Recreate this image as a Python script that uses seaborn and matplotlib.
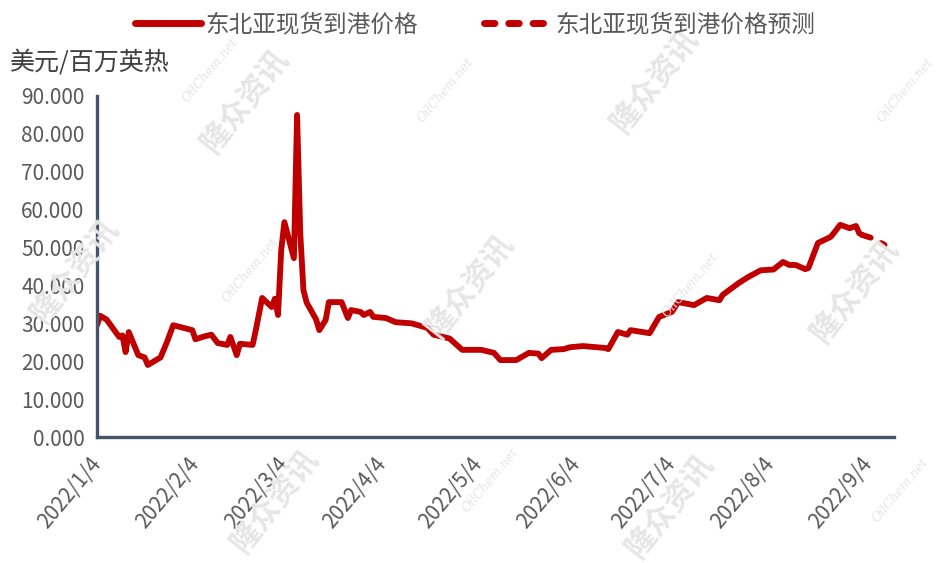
import pandas as pd
import matplotlib.pyplot as plt
import seaborn as sns

# Northeast Asia spot LNG delivered price, USD/MMBtu
dates = [
    "2022-01-04", "2022-01-05", "2022-01-07", "2022-01-11", "2022-01-12", "2022-01-13",
    "2022-01-14", "2022-01-17", "2022-01-19", "2022-01-20", "2022-01-24", "2022-01-26",
    "2022-01-28", "2022-02-03", "2022-02-04", "2022-02-07", "2022-02-09", "2022-02-11",
    "2022-02-14", "2022-02-15", "2022-02-17", "2022-02-18", "2022-02-22", "2022-02-23",
    "2022-02-25", "2022-02-28", "2022-03-01", "2022-03-02", "2022-03-03", "2022-03-04",
    "2022-03-07", "2022-03-08", "2022-03-09", "2022-03-10", "2022-03-11", "2022-03-14",
    "2022-03-15", "2022-03-17", "2022-03-18", "2022-03-22", "2022-03-24", "2022-03-25",
    "2022-03-28", "2022-03-29", "2022-03-31", "2022-04-01", "2022-04-05", "2022-04-08",
    "2022-04-13", "2022-04-18", "2022-04-20", "2022-04-25", "2022-04-29", "2022-05-05",
    "2022-05-09", "2022-05-11", "2022-05-16", "2022-05-20", "2022-05-23", "2022-05-24",
    "2022-05-27", "2022-05-31", "2022-06-02", "2022-06-06", "2022-06-13", "2022-06-14",
    "2022-06-17", "2022-06-20", "2022-06-21", "2022-06-27", "2022-06-30", "2022-07-04",
    "2022-07-06", "2022-07-11", "2022-07-15", "2022-07-19", "2022-07-20", "2022-07-25",
    "2022-07-28", "2022-08-01", "2022-08-05", "2022-08-08", "2022-08-10", "2022-08-12",
    "2022-08-15", "2022-08-16", "2022-08-19", "2022-08-23", "2022-08-24", "2022-08-26",
    "2022-08-29", "2022-08-31", "2022-09-01", "2022-09-02",
]
prices = [
    29.5, 32.0, 31.0, 26.4, 26.8, 22.4,
    27.7, 21.6, 21.0, 19.0, 21.0, 25.0,
    29.5, 28.2, 25.8, 26.6, 27.0, 24.8,
    24.3, 26.4, 21.6, 24.6, 24.3, 28.2,
    36.7, 34.3, 36.5, 32.2, 49.3, 56.7,
    47.2, 85.0, 53.8, 38.8, 35.5, 31.0,
    28.2, 30.9, 35.6, 35.6, 31.4, 33.5,
    33.0, 32.2, 33.0, 31.7, 31.4, 30.3,
    30.0, 28.8, 27.0, 26.0, 23.0, 23.0,
    22.2, 20.3, 20.3, 22.2, 22.0, 20.8,
    23.0, 23.2, 23.7, 24.0, 23.5, 23.2,
    27.7, 27.0, 28.2, 27.4, 31.7, 33.0,
    35.6, 34.8, 36.7, 36.1, 37.5, 40.6,
    42.2, 44.0, 44.2, 46.2, 45.4, 45.4,
    44.3, 44.6, 51.2, 52.8, 53.8, 56.0,
    55.1, 55.7, 53.8, 53.3,
]
fc_dates = ["2022-09-02", "2022-09-05", "2022-09-09"]
fc_prices = [53.3, 52.5, 50.7]

y_ticks = [0, 10, 20, 30, 40, 50, 60, 70, 80, 90]
x_tick_dates = ["2022-01-04", "2022-02-04", "2022-03-04", "2022-04-04", "2022-05-04",
                "2022-06-04", "2022-07-04", "2022-08-04", "2022-09-04"]
x_tick_labels = ["2022/1/4", "2022/2/4", "2022/3/4", "2022/4/4", "2022/5/4",
                 "2022/6/4", "2022/7/4", "2022/8/4", "2022/9/4"]
x_range = ["2022-01-04", "2022-09-12"]

label_actual = "东北亚现货到港价格"
label_fc = "东北亚现货到港价格预测"
unit_label = "美元/百万英热"

sns.set_theme(style="white")
plt.rcParams['font.family'] = ['Noto Sans CJK SC', 'DejaVu Sans']

RED = "#C00000"
AXIS = "#44546A"
GREY = "#595959"

df = pd.DataFrame({"date": pd.to_datetime(dates), "price": prices})
fc = pd.DataFrame({"date": pd.to_datetime(fc_dates), "price": fc_prices})

fig = plt.figure(figsize=(9.4, 5.63), dpi=100)
ax = fig.add_axes([0.1032, 0.2238, 0.848, 0.6057])
ax.set_facecolor("none")

sns.lineplot(data=df, x="date", y="price", ax=ax, color=RED, linewidth=4.2,
             label=label_actual, solid_joinstyle="round", solid_capstyle="round")
sns.lineplot(data=fc, x="date", y="price", ax=ax, color=RED, linewidth=4.2,
             linestyle=(0, (1.5, 2.0)), dash_capstyle="round", label=label_fc)

ax.set_ylim(0, 90)
ax.set_xlim(pd.to_datetime(x_range[0]), pd.to_datetime(x_range[1]))
ax.set_yticks(y_ticks)
ax.set_yticklabels([f"{v:.3f}" for v in y_ticks])
ax.set_xticks(pd.to_datetime(x_tick_dates))
ax.set_xticklabels(x_tick_labels, rotation=50, ha="right", va="center",
                   rotation_mode="anchor")
ax.set_xlabel("")
ax.set_ylabel("")

sns.despine(ax=ax)
for side in ["left", "bottom"]:
    ax.spines[side].set_color(AXIS)
    ax.spines[side].set_linewidth(2.4)
ax.tick_params(axis="both", direction="in", length=6, width=2, color=AXIS,
               labelsize=15, labelcolor=GREY)
ax.tick_params(axis="y", pad=9)
ax.tick_params(axis="x", pad=17)

handles, labels = ax.get_legend_handles_labels()
ax.get_legend().remove()
leg = fig.legend(handles, labels, loc="center", bbox_to_anchor=(0.505, 0.956), ncol=2,
                 frameon=False, fontsize=17, handlelength=2.8, handletextpad=0.2,
                 columnspacing=2.8)
for t in leg.get_texts():
    t.set_color(GREY)
for h in leg.get_lines():
    h.set_linewidth(5)

fig.text(10 / 940, 1 - 62 / 563, unit_label, fontsize=18, color="#404040",
         ha="left", va="center")

# faint watermarks
for px, py in [(245, 100), (75, 270), (655, 80), (470, 285), (855, 290), (275, 500), (670, 505)]:
    fig.text(px / 940, 1 - py / 563, "隆众资讯", fontsize=22, fontweight="bold",
             color="#e6e6e6", rotation=52, ha="center", va="center", zorder=0)
for px, py in [(210, 70), (445, 90), (250, 270), (690, 285), (905, 90), (490, 480), (900, 490)]:
    fig.text(px / 940, 1 - py / 563, "OilChem.net", fontsize=9, style="italic",
             family="DejaVu Serif", color="#e6e6e6", rotation=50,
             ha="center", va="center", zorder=0)

fig.savefig("out.png", dpi=100)
